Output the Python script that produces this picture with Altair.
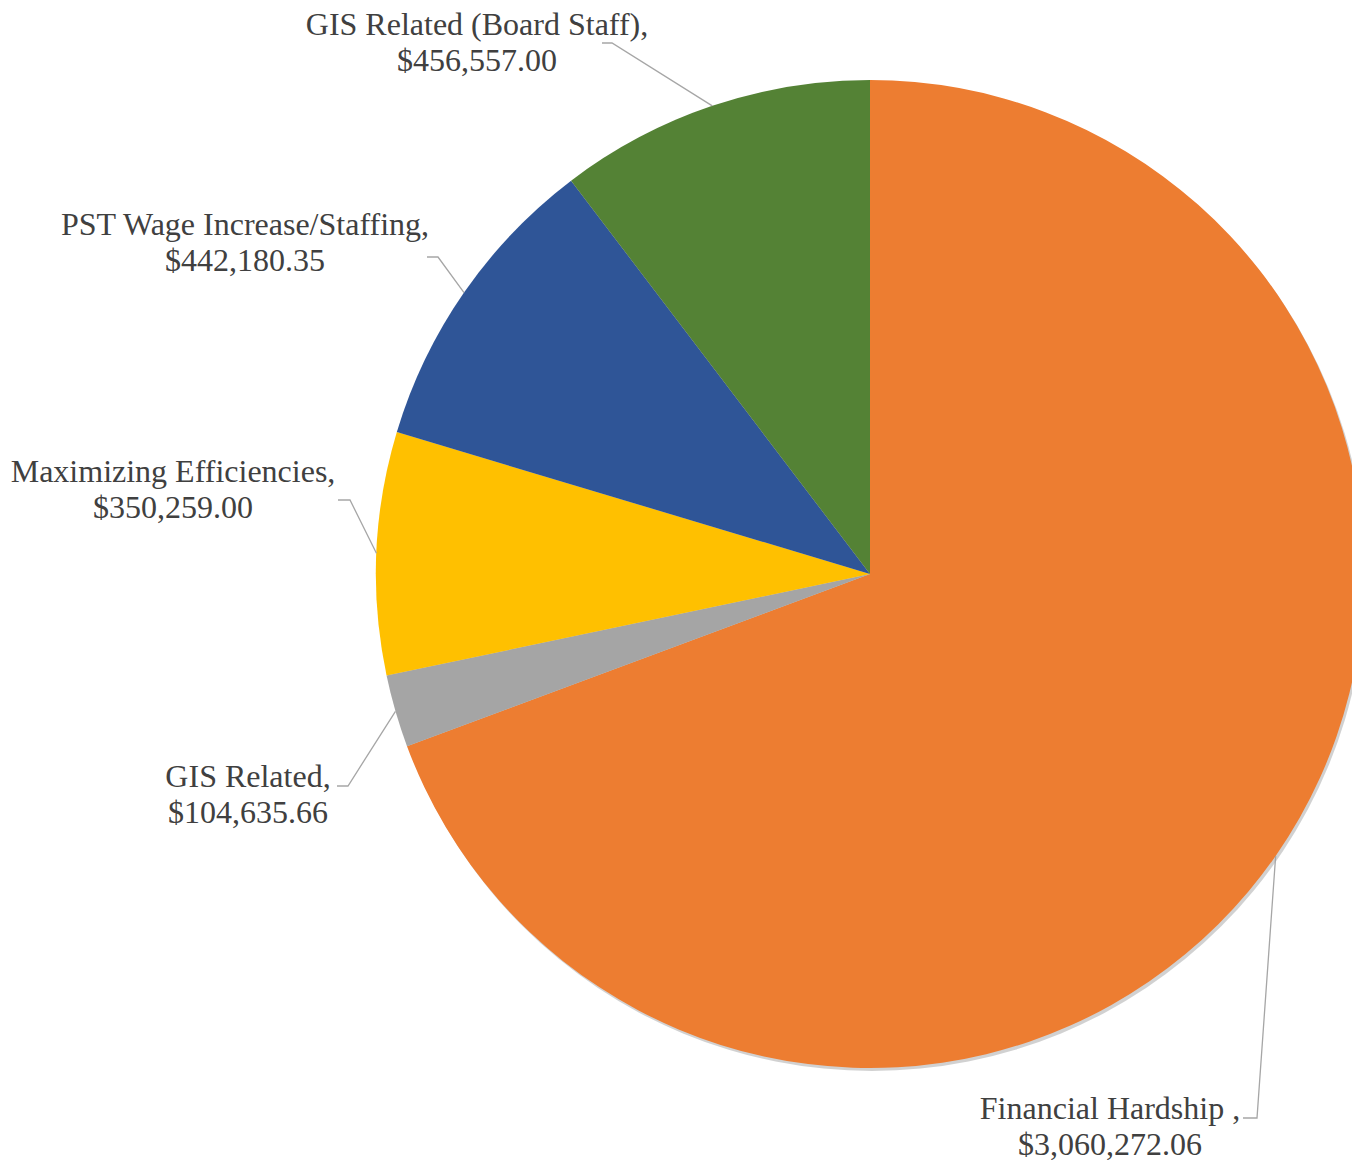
import math
import altair as alt
import pandas as pd

# ---- data ----
categories = ["Financial Hardship", "GIS Related", "Maximizing Efficiencies",
              "PST Wage Increase/Staffing", "GIS Related (Board Staff)"]
values = [3060272.06, 104635.66, 350259.00, 442180.35, 456557.00]
label_names = ["Financial Hardship ,", "GIS Related,", "Maximizing Efficiencies,",
               "PST Wage Increase/Staffing,", "GIS Related (Board Staff),"]
colors = ["#ED7D31", "#A5A5A5", "#FFC000", "#2F5597", "#548235"]

# ---- layout (pixels in plot area) ----
W, H = 1344, 1152
CX, CY, R = 862, 566, 494
label_x = [1102, 240, 165, 237, 469]
label_y = [1111, 779, 474, 227, 27]
line_gap = 36
lead_x = [1235, 329, 330, 419, 594]
elbow_x = [1249, 340, 342, 430, 604]
lead_y = [1110, 778, 492, 249, 35]

total = sum(values)
df = pd.DataFrame({"category": categories, "value": values, "idx": range(len(values))})

# text rows
txt_rows = []
for i, c in enumerate(categories):
    txt_rows.append({"category": c, "x": label_x[i], "y": label_y[i], "text": label_names[i]})
    txt_rows.append({"category": c, "x": label_x[i], "y": label_y[i] + line_gap,
                     "text": f"${values[i]:,.2f}"})
txt = pd.DataFrame(txt_rows)

# leader lines: label -> elbow -> slice mid-angle edge
line_rows = []
cum = 0.0
for i, c in enumerate(categories):
    mid = (cum + values[i] / 2) / total * 2 * math.pi
    cum += values[i]
    ex = CX + R * math.sin(mid)
    ey = CY - R * math.cos(mid)
    line_rows.append({"category": c, "pt": 0, "x": lead_x[i], "y": lead_y[i]})
    line_rows.append({"category": c, "pt": 1, "x": elbow_x[i], "y": lead_y[i]})
    line_rows.append({"category": c, "pt": 2, "x": ex, "y": ey})
lines = pd.DataFrame(line_rows)

xs = alt.Scale(domain=[0, W], nice=False, zero=False)
ys = alt.Scale(domain=[H, 0], nice=False, zero=False)

shadow = alt.Chart(pd.DataFrame({"v": [1]})).mark_arc(
    theta=0, theta2=2 * math.pi, outerRadius=R, color="#000000", opacity=0.18
).encode(x=alt.value(CX + 2), y=alt.value(CY + 3))

pie = alt.Chart(df).mark_arc(outerRadius=R).encode(
    theta=alt.Theta("value:Q", stack=True),
    color=alt.Color("category:N", scale=alt.Scale(domain=categories, range=colors), legend=None),
    order=alt.Order("idx:Q"),
    x=alt.value(CX),
    y=alt.value(CY),
)

leaders = alt.Chart(lines).mark_line(color="#A6A6A6", strokeWidth=1.3).encode(
    x=alt.X("x:Q", scale=xs, axis=None),
    y=alt.Y("y:Q", scale=ys, axis=None),
    detail="category:N",
    order="pt:Q",
)

labels = alt.Chart(txt).mark_text(
    font="Liberation Serif", fontSize=32, color="#404040", align="center", baseline="alphabetic"
).encode(
    x=alt.X("x:Q", scale=xs, axis=None),
    y=alt.Y("y:Q", scale=ys, axis=None),
    text="text:N",
)

chart = alt.layer(shadow, pie, leaders, labels).properties(
    width=W, height=H, padding=0, autosize=alt.AutoSizeParams(type="none")
).configure_view(stroke=None)

chart.save("out.html", embed_options={"renderer": "svg", "actions": False})
